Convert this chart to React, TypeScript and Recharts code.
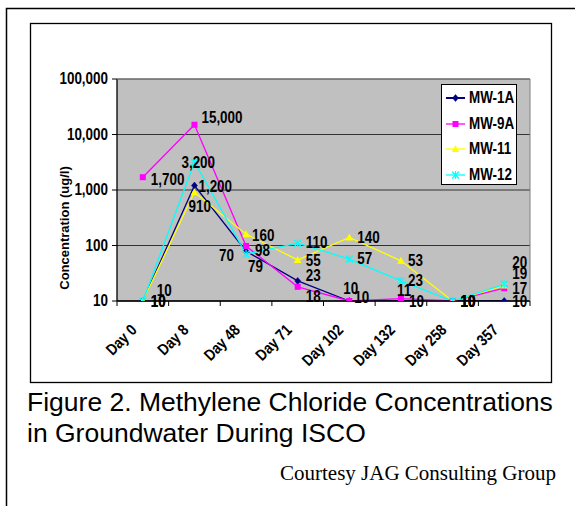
import React from 'react';
import { LineChart, Line, XAxis, YAxis, CartesianGrid, LabelList } from 'recharts';

const days = ['Day 0', 'Day 8', 'Day 48', 'Day 71', 'Day 102', 'Day 132', 'Day 258', 'Day 357'];
const mw1A = [10, 1200, 79, 23, 10, 10, 10, 10];
const mw9A = [1700, 15000, 98, 18, 10, 11, 10, 17];
const mw11 = [10, 910, 160, 55, 140, 53, 10, 19];
const mw12 = [10, 3200, 70, 110, 57, 23, 10, 20];
const yTicks = [10, 100, 1000, 10000, 100000];
const seriesNames = ['MW-1A', 'MW-9A', 'MW-11', 'MW-12'];
const seriesKeys = ['mw1A', 'mw9A', 'mw11', 'mw12'];

const data = days.map((d, i) => ({ day: d, mw1A: mw1A[i], mw9A: mw9A[i], mw11: mw11[i], mw12: mw12[i] }));

const W = 575;
const H = 506;
const PLOT = { left: 117, top: 79, right: 530, bottom: 301 };
const BW = (PLOT.right - PLOT.left) / days.length;
const YAXIS_W = 60;
const XAXIS_H = 60;
const margin = { top: PLOT.top, right: W - PLOT.right, left: PLOT.left - YAXIS_W, bottom: H - PLOT.bottom - XAXIS_H };

const COLORS: Record<string, string> = { mw1A: '#000080', mw9A: '#ff00ff', mw11: '#ffff00', mw12: '#00ffff' };
const SANS = '"Liberation Sans", Arial, sans-serif';
const NARROW = 0.84;

type Off = [number, number, 'start' | 'middle' | 'end'];
const LABEL_OFFSETS: Record<string, Off[]> = {
  mw1A: [[8, 1, 'start'], [4, 1, 'start'], [2, 15, 'start'], [8, -5, 'start'], [-6, -12, 'start'], [8, 1, 'start'], [8, 1, 'start'], [8, 1, 'start']],
  mw9A: [[8, 2, 'start'], [7, -7, 'start'], [9, 5, 'start'], [8, 10, 'start'], [5, -3, 'start'], [-4, -8, 'start'], [8, 1, 'start'], [8, 0, 'start']],
  mw11: [[8, 1, 'start'], [-6, 14, 'start'], [6, 1, 'start'], [8, 1, 'start'], [8, 0, 'start'], [7, 0, 'start'], [8, 1, 'start'], [8, -12, 'start']],
  mw12: [[14, -10, 'start'], [-13, 1, 'start'], [-12, 1, 'end'], [8, -1, 'start'], [8, 0, 'start'], [7, 0, 'start'], [8, 1, 'start'], [8, -22, 'start']],
};

const fmt = (v: number) => v.toLocaleString('en-US');

const makeLabel = (key: string) => (props: any) => {
  const { x, y, value, index } = props;
  const o = LABEL_OFFSETS[key][index] || [8, 0, 'start'];
  return (
    <text
      key={`${key}-lbl-${index}`}
      transform={`translate(${x + o[0]},${y + o[1]}) scale(${NARROW},1)`}
      textAnchor={o[2]}
      dominantBaseline="central"
      fontSize={16}
      fontWeight="bold"
      fontFamily={SANS}
      fill="#000"
    >
      {fmt(value)}
    </text>
  );
};

const Marker = ({ k, cx, cy }: { k: string; cx: number; cy: number }) => {
  const c = COLORS[k];
  if (k === 'mw1A') {
    return <polygon points={`${cx},${cy - 3.5} ${cx + 3},${cy} ${cx},${cy + 3.5} ${cx - 3},${cy}`} fill={c} stroke={c} strokeWidth={0.5} />;
  }
  if (k === 'mw9A') {
    return <rect x={cx - 3} y={cy - 3} width={6} height={6} fill={c} />;
  }
  if (k === 'mw11') {
    return <polygon points={`${cx},${cy - 4} ${cx + 3.8},${cy + 3} ${cx - 3.8},${cy + 3}`} fill={c} />;
  }
  return (
    <g stroke={c} strokeWidth={1.2}>
      <line x1={cx - 3.5} y1={cy - 3.5} x2={cx + 3.5} y2={cy + 3.5} />
      <line x1={cx - 3.5} y1={cy + 3.5} x2={cx + 3.5} y2={cy - 3.5} />
      <line x1={cx} y1={cy - 4} x2={cx} y2={cy + 4} />
    </g>
  );
};

const makeDot = (key: string) => (props: any) => {
  const { cx, cy, index } = props;
  return <g key={`${key}-dot-${index}`}><Marker k={key} cx={cx} cy={cy} /></g>;
};

const YTick = (props: any) => {
  const { y, payload } = props;
  return (
    <text
      transform={`translate(${PLOT.left - 9},${y}) scale(${NARROW},1)`}
      textAnchor="end"
      dominantBaseline="central"
      fontSize={16}
      fontWeight="bold"
      fontFamily={SANS}
      fill="#000"
    >
      {fmt(payload.value)}
    </text>
  );
};

const XTick = (props: any) => {
  const { x, payload, index } = props;
  return (
    <g>
      <line x1={x - BW / 2} x2={x - BW / 2} y1={PLOT.bottom} y2={PLOT.bottom + 5} stroke="#000" />
      {index === days.length - 1 && (
        <line x1={x + BW / 2} x2={x + BW / 2} y1={PLOT.bottom} y2={PLOT.bottom + 5} stroke="#000" />
      )}
      <text
        transform={`translate(${x - 5},${PLOT.bottom + 30}) rotate(-45) scale(${NARROW},1)`}
        textAnchor="end"
        fontSize={16}
        fontWeight="bold"
        fontFamily={SANS}
        fill="#000"
      >
        {payload.value}
      </text>
    </g>
  );
};

const Legend = () => (
  <div
    style={{
      position: 'absolute',
      left: 441,
      top: 84,
      width: 74,
      height: 99,
      border: '1.5px solid #000',
      background: '#fff',
      boxSizing: 'content-box',
    }}
  >
    {seriesKeys.map((k, i) => (
      <div key={k} style={{ position: 'absolute', left: 0, top: 2 + i * 25.7, height: 22, width: 74 }}>
        <svg width={24} height={22} style={{ position: 'absolute', left: 3, top: 0 }}>
          <line x1={1} x2={20} y1={11} y2={11} stroke={COLORS[k]} strokeWidth={k === 'mw1A' ? 2 : 1.3} />
          <Marker k={k} cx={10.5} cy={11} />
        </svg>
        <span
          style={{
            position: 'absolute',
            left: 27,
            top: 2,
            fontFamily: SANS,
            fontWeight: 'bold',
            fontSize: 16,
            lineHeight: '18px',
            transform: `scaleX(${NARROW})`,
            transformOrigin: 'left center',
            whiteSpace: 'nowrap',
            color: '#000',
          }}
        >
          {seriesNames[i]}
        </span>
      </div>
    ))}
  </div>
);

export default function App() {
  return (
    <div style={{ position: 'absolute', left: 0, top: 0, width: W, height: H, overflow: 'hidden', background: '#fff' }}>
      <div style={{ position: 'absolute', left: 0, top: 0 }}>
        <LineChart width={W} height={H} data={data} margin={margin}>
          <CartesianGrid vertical={false} stroke="#333" fill="#c0c0c0" fillOpacity={1} />
          <XAxis
            dataKey="day"
            interval={0}
            height={XAXIS_H}
            tickLine={false}
            axisLine={{ stroke: '#000', strokeWidth: 1.3 }}
            padding={{ left: BW / 2, right: BW / 2 }}
            tick={<XTick />}
          />
          <YAxis
            width={YAXIS_W}
            scale="log"
            type="number"
            domain={[10, 100000]}
            ticks={yTicks}
            allowDataOverflow
            tickSize={5}
            tickLine={{ stroke: '#000' }}
            axisLine={{ stroke: '#000', strokeWidth: 1.3 }}
            tick={<YTick />}
          />
          {seriesKeys.map((k) => (
            <Line
              key={k}
              dataKey={k}
              name={k}
              type="linear"
              stroke={COLORS[k]}
              strokeWidth={1.3}
              dot={makeDot(k)}
              activeDot={false}
              isAnimationActive={false}
            >
              <LabelList dataKey={k} content={makeLabel(k)} />
            </Line>
          ))}
        </LineChart>
      </div>
      <svg width={W} height={H} style={{ position: 'absolute', left: 0, top: 0, pointerEvents: 'none' }}>
        <rect x={6.5} y={8.5} width={700} height={700} fill="none" stroke="#000" strokeWidth={1.5} />
        <rect x={30.5} y={23.5} width={521} height={359} fill="none" stroke="#000" strokeWidth={1.3} />
        <path d={`M${PLOT.left},${PLOT.top} H${PLOT.right} V${PLOT.bottom}`} fill="none" stroke="#808080" strokeWidth={1} />
        <text
          transform={`translate(69,228) rotate(-90)`}
          textAnchor="middle"
          fontSize={13}
          fontWeight="bold"
          fontFamily={SANS}
          fill="#000"
        >
          Concentration (ug/l)
        </text>
        <text x={27} y={411} fontSize={26.5} fontFamily={SANS} fill="#000">
          Figure 2. Methylene Chloride Concentrations
        </text>
        <text x={27} y={442} fontSize={26.5} fontFamily={SANS} fill="#000">
          in Groundwater During ISCO
        </text>
        <text x={280} y={480} fontSize={21} fontFamily={'"Liberation Serif", "Times New Roman", serif'} fill="#000">
          Courtesy JAG Consulting Group
        </text>
      </svg>
      <Legend />
    </div>
  );
}
